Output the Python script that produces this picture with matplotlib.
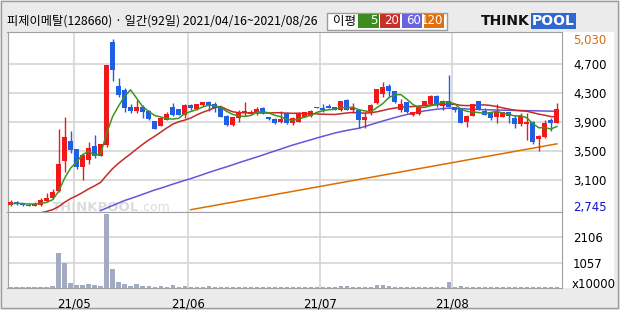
import numpy as np
import matplotlib.pyplot as plt
from matplotlib.patches import Rectangle

# ---- data ----
title = "피제이메탈(128660) · 일간(92일) 2021/04/16~2021/08/26"
month_labels = ["21/05", "21/06", "21/07", "21/08"]
month_first_idx = [11, 30, 52, 74]

opens = [2760, 2800, 2785, 2770, 2755, 2770, 2820, 2860, 2960, 3360,
         3640, 3530, 3290, 3380, 3575, 3440, 3590, 4990, 4390, 4335,
         4110, 4050, 4110, 4050, 3915, 3850, 3930, 4110, 4075, 3995,
         4130, 4075, 4130, 4170, 4145, 4100, 3980, 3860, 3960, 4040,
         4010, 4020, 4095, 3965, 3945, 3900, 4020, 3890, 3905, 3975,
         3985, 4090, 4095, 4120, 4105, 4060, 4200, 4065, 4065, 3925,
         4020, 4155, 4280, 4395, 4325, 4065, 4170, 3990, 4015, 4125,
         4140, 4255, 4125, 4185, 4100, 4085, 3905, 3985, 4185, 4050,
         4030, 3973, 3973, 4030, 3950, 3875, 3870, 3905, 3665, 3700,
         3925, 3890]
highs = [2830, 2815, 2795, 2775, 2800, 2860, 2925, 2990, 3810, 3970,
         3775, 3530, 3455, 3620, 3720, 3605, 4680, 5030, 4505, 4360,
         4140, 4200, 4130, 4060, 3920, 3960, 4040, 4155, 4080, 4140,
         4140, 4150, 4180, 4190, 4170, 4105, 3990, 3970, 4070, 4175,
         4070, 4110, 4110, 3970, 3960, 4050, 4030, 3970, 4030, 4040,
         4060, 4110, 4145, 4140, 4110, 4190, 4210, 4165, 4070, 4030,
         4145, 4350, 4450, 4415, 4330, 4215, 4180, 4040, 4130, 4190,
         4265, 4265, 4200, 4545, 4110, 4090, 3990, 4150, 4190, 4090,
         4035, 4140, 4040, 4035, 3995, 4020, 4020, 3910, 3720, 3930,
         3950, 4165]
lows = [2750, 2765, 2755, 2745, 2750, 2755, 2800, 2840, 2945, 3220,
        3470, 3260, 3100, 3320, 3410, 3430, 3560, 4460, 4245, 4030,
        4020, 4020, 3960, 3930, 3800, 3845, 3925, 3985, 3990, 3950,
        4060, 4060, 4120, 4045, 4030, 3970, 3850, 3850, 3905, 3980,
        3995, 4000, 4010, 3930, 3870, 3885, 3870, 3860, 3895, 3965,
        3975, 4085, 4030, 4085, 4060, 4055, 4060, 4020, 3815, 3815,
        4000, 4150, 4245, 4245, 4160, 4030, 4020, 3980, 4000, 4120,
        4130, 4110, 4065, 4100, 4040, 3880, 3835, 3980, 4060, 3990,
        3925, 3890, 3965, 3890, 3815, 3840, 3655, 3605, 3500, 3680,
        3775, 3885]
closes = [2800, 2785, 2770, 2755, 2785, 2830, 2865, 2945, 3320, 3690,
          3520, 3290, 3450, 3540, 3435, 3600, 4680, 4610, 4270, 4090,
          4050, 4110, 4035, 3945, 3805, 3950, 4005, 3995, 3995, 4130,
          4090, 4140, 4170, 4125, 4095, 3975, 3860, 3965, 4030, 4050,
          4040, 4075, 4020, 3937, 3890, 3940, 3890, 3960, 4020, 4030,
          4050, 4100, 4065, 4095, 4060, 4185, 4065, 4105, 3925, 3975,
          4130, 4345, 4385, 4330, 4170, 4145, 4030, 4030, 4110, 4185,
          4255, 4130, 4185, 4110, 4060, 3890, 3985, 4145, 4065, 3996,
          3960, 4055, 4030, 3986, 3875, 3985, 3905, 3630, 3710, 3890,
          3885, 4080]
# closes before 2021/04/16, estimated from where the 5/20-day averages start
prior_close = [2420, 2430, 2440, 2450, 2460, 2470, 2480, 2490, 2500, 2510,
               2520, 2540, 2560, 2600, 2660, 2740, 2780, 2790, 2780]

ma60_start = 15
ma60 = [2689, 2723, 2757, 2792, 2826, 2853, 2881, 2911, 2940, 2970,
        2994, 3021, 3049, 3075, 3101, 3125, 3153, 3180, 3209, 3236,
        3262, 3287, 3314, 3342, 3369, 3395, 3421, 3448, 3476, 3503,
        3530, 3558, 3585, 3608, 3633, 3656, 3681, 3704, 3726, 3749,
        3768, 3784, 3800, 3814, 3838, 3864, 3889, 3913, 3937, 3960,
        3982, 4002, 4020, 4037, 4052, 4064, 4075, 4083, 4089, 4087,
        4083, 4079, 4075, 4071, 4068, 4066, 4064, 4062, 4060, 4058,
        4057, 4055, 4054, 4052, 4050, 4048, 4046]
ma120_start = 30
ma120 = [2700, 2715, 2730, 2744, 2759, 2774, 2789, 2803, 2818, 2833,
         2848, 2862, 2877, 2892, 2907, 2922, 2936, 2951, 2966, 2981,
         2996, 3010, 3025, 3040, 3055, 3069, 3084, 3099, 3114, 3129,
         3143, 3158, 3173, 3188, 3202, 3217, 3232, 3247, 3262, 3276,
         3291, 3306, 3321, 3335, 3350, 3365, 3380, 3395, 3409, 3424,
         3439, 3454, 3468, 3483, 3498, 3513, 3528, 3542, 3557, 3572,
         3587, 3601]

# volume in units of 10000 shares
volume = [50, 45, 40, 45, 50, 55, 60, 100, 1450, 1030,
          225, 140, 140, 180, 140, 100, 3080, 810, 265, 180,
          100, 180, 100, 100, 55, 100, 55, 140, 55, 100,
          55, 50, 55, 100, 50, 45, 50, 45, 50, 55,
          45, 50, 45, 50, 45, 50, 45, 50, 55, 50,
          45, 50, 45, 50, 55, 100, 100, 50, 55, 50,
          50, 140, 140, 100, 50, 45, 50, 45, 50, 50,
          45, 50, 55, 270, 50, 100, 50, 45, 50, 45,
          50, 45, 50, 45, 50, 55, 50, 45, 50, 45,
          50, 45]

price_ticks = [3100, 3500, 3900, 4300, 4700]
vol_ticks = [1057, 2106]

# ---- figure ----
W, H = 620, 310
fig = plt.figure(figsize=(W / 100, H / 100), dpi=100, facecolor='#ebebeb')
kr = ['Noto Sans CJK KR', 'DejaVu Sans']


def px_axes(l, t, r, b):
    return fig.add_axes([l / W, 1 - b / H, (r - l) / W, (b - t) / H])


def px_rect(l, t, r, b, z=1, **kw):
    rect = Rectangle((l / W, 1 - b / H), (r - l) / W, (b - t) / H,
                     transform=fig.transFigure, zorder=z, **kw)
    fig.patches.append(rect)
    return rect


px_rect(1, 1, 618, 308, z=-2, facecolor='none', edgecolor='#9c9c9c', lw=1)
px_rect(562, 32, 614, 288, z=-2, facecolor='white', edgecolor='none')

ax = px_axes(7.5, 32, 562, 212)
axv = px_axes(7.5, 212, 562, 288)

n = len(closes)
x = np.arange(n)
o = np.array(opens)
c = np.array(closes)
up = c >= o
col = np.where(up, '#f01818', '#1f5fe3')

grid_c = '#d6d6d6'
for a in (ax, axv):
    for m in month_first_idx:
        a.axvline(m - 0.5, color=grid_c, lw=1.2, zorder=0)
    for s in a.spines.values():
        s.set_color('#a0a0a0')
    a.set_xlim(-0.5, 91.85)
for p in price_ticks:
    ax.axhline(p, color=grid_c, lw=1.2, zorder=0)
for v in vol_ticks:
    axv.axhline(v, color=grid_c, lw=1.2, zorder=0)

# watermark
ax.text(52 / W, 1 - 211 / H, 'THINKPOOL', transform=fig.transFigure,
        fontsize=9.5, fontweight='bold', color='#dcdcdc', zorder=0.5)
ax.text(140 / W, 1 - 211 / H, '.com', transform=fig.transFigure,
        fontsize=9, color='#dcdcdc', zorder=0.5)

# candles
ax.vlines(x, lows, highs, colors=col, lw=1, zorder=3)
body = np.maximum(np.abs(c - o), 12)
ax.bar(x, body, bottom=np.minimum(o, c), width=0.8, color=col, lw=0, zorder=3)

# moving averages
full = np.array(prior_close + closes, dtype=float)
k = len(prior_close)
ma5 = [full[k + i - 4:k + i + 1].mean() for i in range(n)]
ma20 = [full[k + i - 19:k + i + 1].mean() for i in range(n)]
ax.plot(np.arange(ma120_start, ma120_start + len(ma120)), ma120,
        color='#dc6e00', lw=1.1, zorder=2)
ax.plot(np.arange(ma60_start, ma60_start + len(ma60)), ma60,
        color='#6655d8', lw=1.1, zorder=2)
ax.plot(x, ma20, color='#c42a26', lw=1.1, zorder=2)
ax.plot(x, ma5, color='#3c961e', lw=1.1, zorder=4)

ax.set_ylim(2669, 5131)
ax.set_xticks([])
ax.yaxis.tick_right()
yt = [min(lows)] + price_ticks + [max(highs)]
ax.set_yticks(yt)
ax.set_yticklabels([f'{v:,}' for v in yt])
ax.tick_params(axis='y', length=0, pad=8, labelsize=8.5)
lbls = ax.get_yticklabels()
lbls[0].set_color('#1010d0')
lbls[-1].set_color('#d07010')

# volume
axv.bar(x, volume, width=0.7, color='#a3abc3', lw=0, zorder=2)
axv.set_ylim(0, 3160)
axv.yaxis.tick_right()
axv.set_yticks(vol_ticks)
axv.set_yticklabels([str(v) for v in vol_ticks])
axv.tick_params(axis='y', length=0, pad=8, labelsize=8.5)
axv.set_xticks([m - 0.5 for m in month_first_idx])
axv.set_xticklabels(month_labels)
axv.tick_params(axis='x', length=0, pad=7, labelsize=8.5)
fig.text(572 / W, 1 - 285 / H, 'x10000', fontsize=8.5, va='center')

# header
fig.text(7 / W, 1 - 21 / H, title, fontsize=8.8, family=kr, va='center')
px_rect(327, 12.5, 447, 29.5, facecolor='white', edgecolor='#9c9c9c', lw=1)
fig.text(333 / W, 1 - 21 / H, '이평', fontsize=9, family=kr, va='center')
for (l, r, fc, t) in [(358, 379, '#3c8c22', '5'), (380, 400, '#c8302a', '20'),
                      (402, 422, '#6a64dc', '60'), (424, 444, '#e07010', '120')]:
    px_rect(l, 14, r, 28, facecolor=fc, edgecolor='none')
    fig.text((r - 1) / W, 1 - 21 / H, t, fontsize=8.5, color='white',
             ha='right', va='center')

fig.text(481 / W, 1 - 21 / H, 'THINK', fontsize=10, fontweight='bold',
         color='#111111', va='center')
fig.text(532 / W, 1 - 21 / H, 'POOL', fontsize=10, fontweight='bold',
         color='white', va='center',
         bbox=dict(boxstyle='square,pad=0.08', fc='#2f68d0', ec='none'))

fig.savefig('out.png', dpi=100, facecolor=fig.get_facecolor())
